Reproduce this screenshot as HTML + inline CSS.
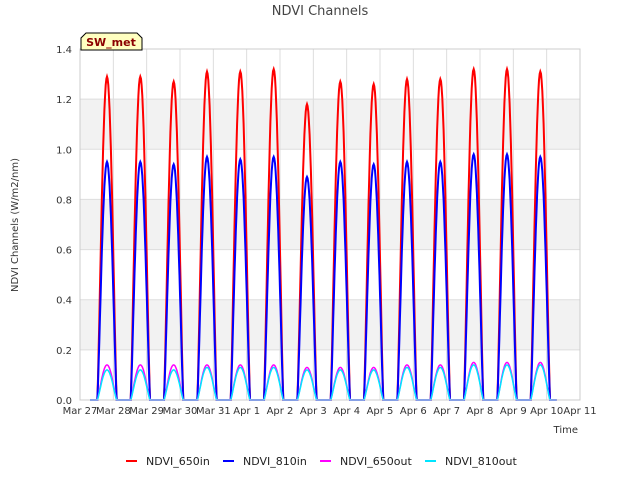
<!DOCTYPE html>
<html><head><meta charset="utf-8"><style>
body{margin:0;background:#fff;font-family:"Liberation Sans","DejaVu Sans",sans-serif}
svg text{font-family:"DejaVu Sans","Liberation Sans",sans-serif}
</style></head><body>
<svg id="chart" width="640" height="480">
<rect x="0" y="0" width="640" height="480" fill="#fff"/>
<g id="grid"></g>
<g id="series"></g>
<g id="axes"></g>
<text x="320" y="15" text-anchor="middle" font-size="13" fill="#444">NDVI Channels</text>
<text x="18" y="225" text-anchor="middle" font-size="10" fill="#333" transform="rotate(-90 18 225)">NDVI Channels (W/m2/nm)</text>
<text x="578" y="433" text-anchor="end" font-size="10" fill="#333">Time</text>
<g>
<path d="M81,50 L81,38 L86,33 L137,33 L142,38 L142,50 Z" fill="#ffffc0" stroke="#000" stroke-width="1"/>
<text x="111" y="46" text-anchor="middle" font-size="11" font-weight="bold" fill="#8b0000">SW_met</text>
</g>
<g id="legend"></g>
</svg>
<script>
const dayLabels=["Mar 27","Mar 28","Mar 29","Mar 30","Mar 31","Apr 1","Apr 2","Apr 3","Apr 4","Apr 5","Apr 6","Apr 7","Apr 8","Apr 9","Apr 10","Apr 11"];
const yTicks=[0,0.2,0.4,0.6,0.8,1.0,1.2,1.4];
const peak650in=[1.29,1.29,1.27,1.31,1.31,1.32,1.18,1.27,1.26,1.28,1.28,1.32,1.32,1.31];
const peak810in=[0.95,0.95,0.94,0.97,0.96,0.97,0.89,0.95,0.94,0.95,0.95,0.98,0.98,0.97];
const peak650out=[0.14,0.14,0.14,0.14,0.14,0.14,0.13,0.13,0.13,0.14,0.14,0.15,0.15,0.15];
const peak810out=[0.12,0.12,0.12,0.13,0.13,0.13,0.12,0.12,0.12,0.13,0.13,0.14,0.14,0.14];
const NS="http://www.w3.org/2000/svg";
const X0=80,X1=580,Y0=400,Y1=49;
const xs=d=>X0+(X1-X0)*d/15;
const ys=v=>Y0-(Y0-Y1)*v/1.4;
function el(t,a,p){const e=document.createElementNS(NS,t);for(const k in a)e.setAttribute(k,a[k]);p.appendChild(e);return e;}
const grid=document.getElementById('grid'),axes=document.getElementById('axes'),series=document.getElementById('series'),legend=document.getElementById('legend');
for(let i=0;i<yTicks.length-1;i++){if(i%2==1){const r=el('rect',{x:X0,y:ys(yTicks[i+1]),width:X1-X0,height:ys(yTicks[i])-ys(yTicks[i+1]),fill:'#f2f2f2'},grid);

}}
yTicks.forEach(v=>{const l=el('line',{x1:X0,x2:X1,y1:ys(v),y2:ys(v),stroke:'#ddd'},grid);


const t=el('text',{x:X0-8,y:ys(v)+4,'text-anchor':'end','font-size':10,fill:'#333'},axes);t.textContent=v.toFixed(1);

});
dayLabels.forEach((s,i)=>{const l=el('line',{x1:xs(i),x2:xs(i),y1:Y1,y2:Y0,stroke:'#ddd'},grid);


const t=el('text',{x:xs(i),y:Y0+14,'text-anchor':'middle','font-size':10,fill:'#333'},axes);t.textContent=s;

});
el('rect',{x:X0,y:Y1,width:X1-X0,height:Y0-Y1,fill:'none',stroke:'#ccc'},axes);
function path(peaks,color,w,name){let d='M'+xs(0.3)+','+ys(0);
peaks.forEach((p,i)=>{const a=i+0.52,b=i+1.1;d+=' L'+xs(a).toFixed(1)+','+ys(0);
for(let k=0;k<=30;k++){const t=a+(b-a)*k/30;const s=Math.sin(Math.PI*k/30);d+=' L'+xs(t).toFixed(1)+','+ys(p*Math.pow(s,1.2)).toFixed(1);}});
d+=' L'+xs(14.3)+','+ys(0);
const e=el('path',{d:d,fill:'none',stroke:color,'stroke-width':w},series);

}
path(peak650in,'#ff0000',2,'series-ndvi-650in');
path(peak810in,'#0000ff',2,'series-ndvi-810in');
path(peak650out,'#ff00ff',1.5,'series-ndvi-650out');
path(peak810out,'#00e5ff',1.5,'series-ndvi-810out');
const leg=[["NDVI_650in","#ff0000",126],["NDVI_810in","#0000ff",223],["NDVI_650out","#ff00ff",320],["NDVI_810out","#00e5ff",425]];
leg.forEach(([n,c,x])=>{const g=el('g',{},legend);


el('line',{x1:x,x2:x+11,y1:461,y2:461,stroke:c,'stroke-width':2},g);
const t=el('text',{x:x+20,y:465,'font-size':11,fill:'#222'},g);t.textContent=n;});
</script>
</body></html>
